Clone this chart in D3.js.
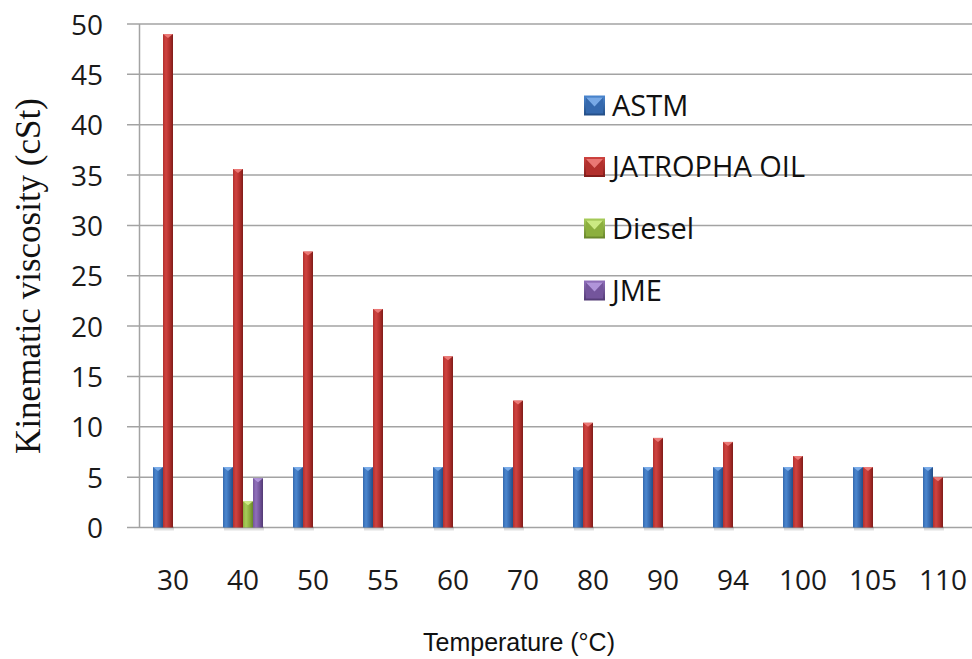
<!DOCTYPE html>
<html>
<head>
<meta charset="utf-8">
<script src="https://cdn.jsdelivr.net/npm/d3@7/dist/d3.min.js"></script>
<style>
  html, body { margin: 0; padding: 0; background: #fff; }
  svg { display: block; }
</style>
</head>
<body>
<svg id="chart" width="972" height="659"></svg>
<script>
// ---------- data ----------
const categories = ["30", "40", "50", "55", "60", "70", "80", "90", "94", "100", "105", "110"];
const seriesNames = ["ASTM", "JATROPHA OIL", "Diesel", "JME"];
const astm     = [6, 6, 6, 6, 6, 6, 6, 6, 6, 6, 6, 6];
const jatropha = [49, 35.6, 27.4, 21.7, 17.0, 12.6, 10.4, 8.9, 8.5, 7.1, 6.0, 5.0];
const diesel   = [null, 2.6, null, null, null, null, null, null, null, null, null, null];
const jme      = [null, 4.9, null, null, null, null, null, null, null, null, null, null];
const yTicks   = [0, 5, 10, 15, 20, 25, 30, 35, 40, 45, 50];

const seriesValues = [astm, jatropha, diesel, jme];
const colors = [
  { light: "#4a86cf", mid: "#3569ae", dark: "#234d85", cap: "#7fb0ec" },
  { light: "#cf4340", mid: "#b3302d", dark: "#7f1b19", cap: "#ef7f7c" },
  { light: "#a7cc5a", mid: "#8caf3e", dark: "#67842a", cap: "#d2ef8a" },
  { light: "#906fbb", mid: "#74559c", dark: "#523a74", cap: "#b79be0" }
];

const svg = d3.select("#chart");
const W = 972, H = 659;

// ---------- scales ----------
const x0 = d3.scaleBand().domain(categories).range([138, 978]).padding(0);
const x1 = d3.scaleBand().domain(seriesNames).range([15, 55]).padding(0);
const y = d3.scaleLinear().domain([0, 50]).range([527.5, 24]);

// ---------- gradients ----------
const defs = svg.append("defs");
colors.forEach((c, i) => {
  const g = defs.append("linearGradient").attr("id", "grad" + i)
    .attr("x1", "0%").attr("x2", "100%").attr("y1", "0%").attr("y2", "0%");
  g.append("stop").attr("offset", "0%").attr("stop-color", c.mid);
  g.append("stop").attr("offset", "30%").attr("stop-color", c.light);
  g.append("stop").attr("offset", "65%").attr("stop-color", c.mid);
  g.append("stop").attr("offset", "100%").attr("stop-color", c.dark);
  const lg = defs.append("linearGradient").attr("id", "lgrad" + i)
    .attr("x1", "0%").attr("x2", "0%").attr("y1", "0%").attr("y2", "100%");
  lg.append("stop").attr("offset", "0%").attr("stop-color", c.light);
  lg.append("stop").attr("offset", "100%").attr("stop-color", c.dark);
});

// ---------- gridlines & axis ----------
const grid = svg.append("g");
grid.selectAll("line.grid").data(yTicks).enter().append("line")
  .attr("class", "grid")
  .attr("x1", 127).attr("x2", W)
  .attr("y1", d => y(d)).attr("y2", d => y(d))
  .attr("stroke", "#a3a3a3").attr("stroke-width", 1.5);

svg.append("line")
  .attr("x1", 139.5).attr("x2", 139.5)
  .attr("y1", y(50)).attr("y2", y(0))
  .attr("stroke", "#a3a3a3").attr("stroke-width", 1.5);

const yAxis = d3.axisLeft(y).tickValues(yTicks).tickSize(0).tickPadding(0);
const yg = svg.append("g").attr("transform", "translate(103,0)").call(yAxis);
yg.select(".domain").remove();
yg.selectAll("text")
  .attr("font-family", "'Open Sans', sans-serif")
  .attr("font-size", 28)
  .attr("fill", "#1a1a1a")
  .attr("dy", "0.36em");

const xAxis = d3.axisBottom(x0).tickSize(0).tickPadding(0);
const xg = svg.append("g").call(xAxis);
xg.select(".domain").remove();
xg.selectAll("text")
  .attr("font-family", "'Open Sans', sans-serif")
  .attr("font-size", 28)
  .attr("fill", "#1a1a1a")
  .attr("y", 590).attr("dy", 0);

// ---------- bars ----------
const barData = [];
categories.forEach((cat, ci) => {
  seriesValues.forEach((vals, si) => {
    const v = vals[ci];
    if (v !== null && v !== undefined) barData.push({ cat, si, name: seriesNames[si], v });
  });
});

const bars = svg.append("g");
const bg = bars.selectAll("g.bar").data(barData).enter().append("g").attr("class", "bar");

// shadow
bg.append("rect")
  .attr("x", d => x0(d.cat) + x1(d.name) + 1)
  .attr("y", y(0) - 1)
  .attr("width", x1.bandwidth())
  .attr("height", 4)
  .attr("fill", "#000").attr("opacity", 0.12);

bg.append("rect")
  .attr("x", d => x0(d.cat) + x1(d.name))
  .attr("y", d => y(d.v))
  .attr("width", x1.bandwidth())
  .attr("height", d => y(0) - y(d.v))
  .attr("fill", d => "url(#grad" + d.si + ")");

// top cap highlight
bg.append("path")
  .attr("d", d => {
    const bx = x0(d.cat) + x1(d.name), bw = x1.bandwidth(), by = y(d.v);
    return `M${bx},${by} L${bx + bw},${by} L${bx + bw / 2},${by + 4} Z`;
  })
  .attr("fill", d => colors[d.si].cap).attr("opacity", 0.9);

// ---------- legend ----------
const legendY = [105.5, 167, 228.5, 290.5];
const legend = svg.append("g");
seriesNames.forEach((name, i) => {
  const gy = legendY[i];
  const g = legend.append("g").attr("transform", `translate(584,${gy})`);
  g.append("rect").attr("x", 0).attr("y", -10).attr("width", 21).attr("height", 20)
    .attr("fill", "url(#lgrad" + i + ")");
  g.append("rect").attr("x", 2).attr("y", -8).attr("width", 17).attr("height", 16)
    .attr("fill", colors[i].mid);
  g.append("path").attr("d", "M2,-8 L19,-8 L10.5,1 Z").attr("fill", colors[i].cap).attr("opacity", 0.9);
  g.append("text")
    .attr("x", 28).attr("y", 0).attr("dy", "0.36em")
    .attr("font-family", "'Open Sans', sans-serif")
    .attr("font-size", 29)
    .attr("fill", "#111")
    .text(name);
});

// ---------- axis titles ----------
svg.append("text")
  .attr("transform", "translate(40,276) rotate(-90)")
  .attr("text-anchor", "middle")
  .attr("font-family", "'Liberation Serif', 'Times New Roman', serif")
  .attr("font-size", 35)
  .attr("fill", "#111")
  .text("Kinematic viscosity (cSt)");

svg.append("text")
  .attr("x", 519).attr("y", 651)
  .attr("text-anchor", "middle")
  .attr("font-family", "'Liberation Sans', Arial, sans-serif")
  .attr("font-size", 25)
  .attr("fill", "#111")
  .text("Temperature (°C)");
</script>
</body>
</html>
